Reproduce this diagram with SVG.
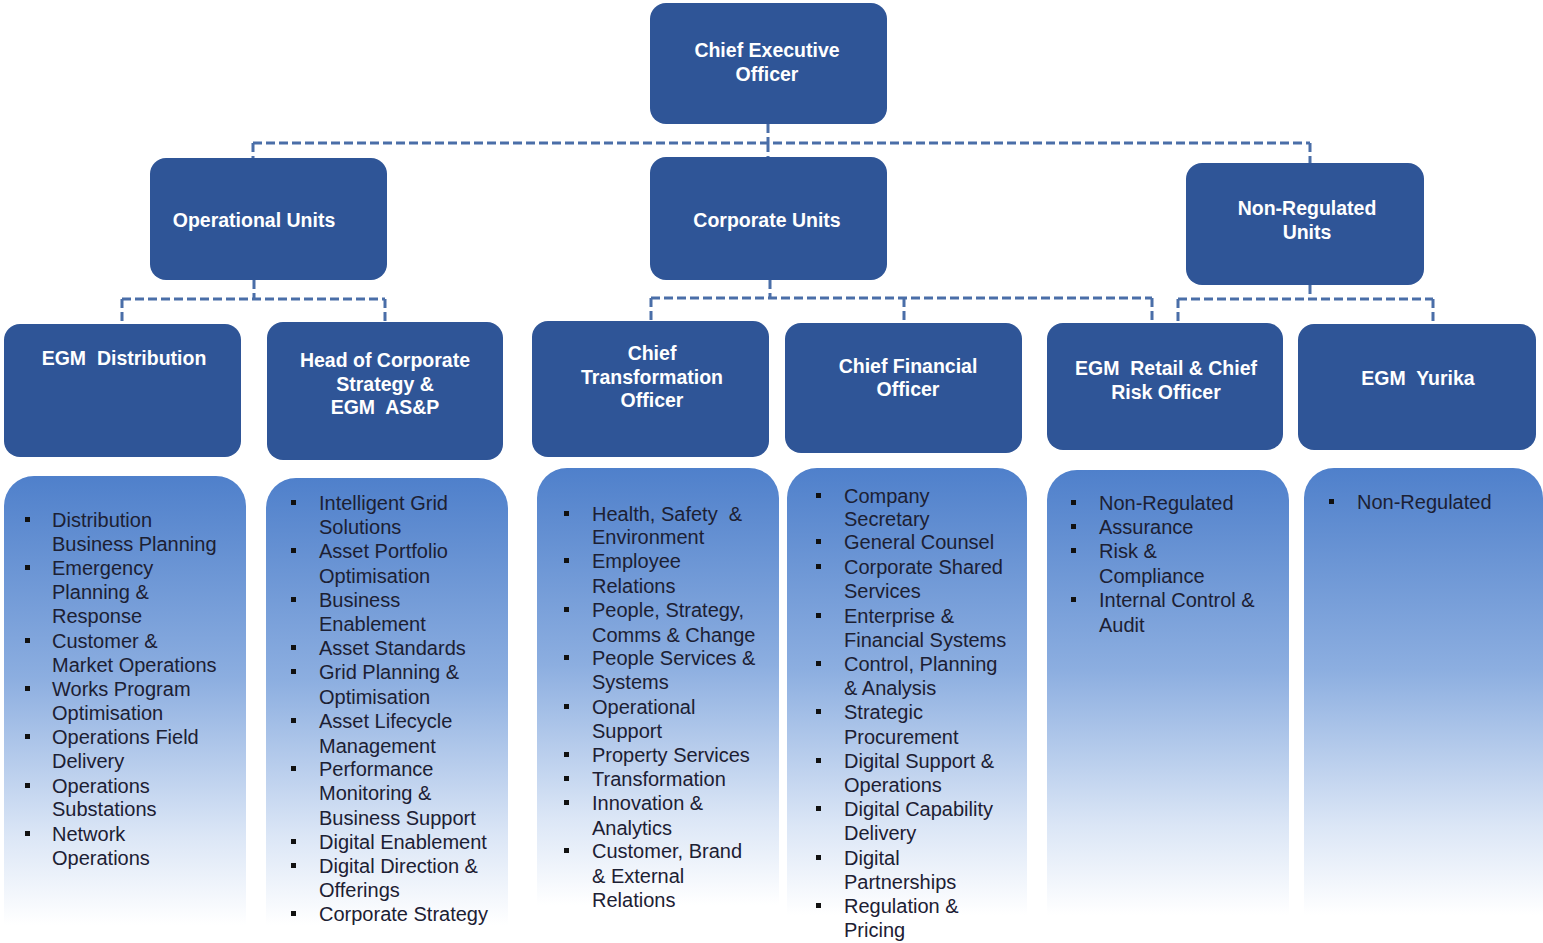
<svg xmlns="http://www.w3.org/2000/svg" width="1543" height="943" viewBox="0 0 1543 943">
  <defs>
    <linearGradient id="panelFill" x1="0" y1="0" x2="0" y2="1">
      <stop offset="0" stop-color="#4f80cb"/>
      <stop offset="0.45" stop-color="#8caee0"/>
      <stop offset="0.8" stop-color="#dbe6f6"/>
      <stop offset="1" stop-color="#ffffff"/>
    </linearGradient>
  </defs>
  <style>
    .box { fill: #2f5597; }
    .head { font-family: "Liberation Sans", Arial, sans-serif; font-weight: bold; font-size: 19.5px; fill: #ffffff; text-anchor: middle; }
    .item { font-family: "Liberation Sans", Arial, sans-serif; font-size: 20px; fill: #1c2033; }
    .bullet { fill: #111111; }
    .panel { fill: url(#panelFill); }
    .link { fill: none; stroke: #4a6ea8; stroke-width: 3; stroke-dasharray: 9 4; }
  </style>
  <rect width="1543" height="943" fill="#ffffff"/>

  <!-- dashed reporting lines -->
  <g id="connectors">
    <path class="link" d="M768 124 V143 M253 143 H1310 M253 143 V158 M768 143 V157 M1310 143 V163"/>
    <path class="link" d="M254 280 V299 M122 299 H385 M122 299 V324 M385 299 V322"/>
    <path class="link" d="M770 280 V298 M651 298 H1152 M651 298 V321 M904 298 V323 M1152 298 V323"/>
    <path class="link" d="M1310 285 V299 M1178 299 H1433 M1178 299 V323 M1433 299 V324"/>
  </g>

  <!-- top level -->
  <g id="ceo">
    <rect class="box" x="650" y="3" width="237" height="121" rx="16"/>
    <text class="head" x="767" y="57">Chief Executive</text>
    <text class="head" x="767" y="81">Officer</text>
  </g>

  <!-- unit groups -->
  <g id="operational-units">
    <rect class="box" x="150" y="158" width="237" height="122" rx="16"/>
    <text class="head" x="254" y="227">Operational Units</text>
  </g>
  <g id="corporate-units">
    <rect class="box" x="650" y="157" width="237" height="123" rx="16"/>
    <text class="head" x="767" y="227">Corporate Units</text>
  </g>
  <g id="non-regulated-units">
    <rect class="box" x="1186" y="163" width="238" height="122" rx="16"/>
    <text class="head" x="1307" y="215">Non-Regulated</text>
    <text class="head" x="1307" y="239">Units</text>
  </g>

  <!-- EGM Distribution -->
  <g id="egm-distribution">
    <rect class="box" x="4" y="324" width="237" height="133" rx="16"/>
    <text class="head" x="124" y="365" xml:space="preserve">EGM  Distribution</text>
    <path class="panel" d="M4 506 A30 30 0 0 1 34 476 H216 A30 30 0 0 1 246 506 V925 H4 Z"/>
    <g class="bullet">
      <rect x="25" y="517" width="5" height="5"/>
      <rect x="25" y="565" width="5" height="5"/>
      <rect x="25" y="638" width="5" height="5"/>
      <rect x="25" y="686" width="5" height="5"/>
      <rect x="25" y="734" width="5" height="5"/>
      <rect x="25" y="783" width="5" height="5"/>
      <rect x="25" y="831" width="5" height="5"/>
    </g>
    <g class="item">
      <text x="52" y="527">Distribution</text>
      <text x="52" y="551">Business Planning</text>
      <text x="52" y="575">Emergency</text>
      <text x="52" y="599">Planning &amp;</text>
      <text x="52" y="623">Response</text>
      <text x="52" y="648">Customer &amp;</text>
      <text x="52" y="672">Market Operations</text>
      <text x="52" y="696">Works Program</text>
      <text x="52" y="720">Optimisation</text>
      <text x="52" y="744">Operations Field</text>
      <text x="52" y="768">Delivery</text>
      <text x="52" y="793">Operations</text>
      <text x="52" y="816">Substations</text>
      <text x="52" y="841">Network</text>
      <text x="52" y="865">Operations</text>
    </g>
  </g>

  <!-- Head of Corporate Strategy -->
  <g id="corporate-strategy">
    <rect class="box" x="267" y="322" width="236" height="138" rx="16"/>
    <text class="head" x="385" y="367">Head of Corporate</text>
    <text class="head" x="385" y="391">Strategy &amp;</text>
    <text class="head" x="385" y="414" xml:space="preserve">EGM  AS&amp;P</text>
    <path class="panel" d="M266 508 A30 30 0 0 1 296 478 H478 A30 30 0 0 1 508 508 V925 H266 Z"/>
    <g class="bullet">
      <rect x="291" y="500" width="5" height="5"/>
      <rect x="291" y="548" width="5" height="5"/>
      <rect x="291" y="597" width="5" height="5"/>
      <rect x="291" y="645" width="5" height="5"/>
      <rect x="291" y="669" width="5" height="5"/>
      <rect x="291" y="718" width="5" height="5"/>
      <rect x="291" y="766" width="5" height="5"/>
      <rect x="291" y="839" width="5" height="5"/>
      <rect x="291" y="863" width="5" height="5"/>
      <rect x="291" y="911" width="5" height="5"/>
    </g>
    <g class="item">
      <text x="319" y="510">Intelligent Grid</text>
      <text x="319" y="534">Solutions</text>
      <text x="319" y="558">Asset Portfolio</text>
      <text x="319" y="583">Optimisation</text>
      <text x="319" y="607">Business</text>
      <text x="319" y="631">Enablement</text>
      <text x="319" y="655">Asset Standards</text>
      <text x="319" y="679">Grid Planning &amp;</text>
      <text x="319" y="704">Optimisation</text>
      <text x="319" y="728">Asset Lifecycle</text>
      <text x="319" y="753">Management</text>
      <text x="319" y="776">Performance</text>
      <text x="319" y="800">Monitoring &amp;</text>
      <text x="319" y="825">Business Support</text>
      <text x="319" y="849">Digital Enablement</text>
      <text x="319" y="873">Digital Direction &amp;</text>
      <text x="319" y="897">Offerings</text>
      <text x="319" y="921">Corporate Strategy</text>
    </g>
  </g>

  <!-- Chief Transformation Officer -->
  <g id="chief-transformation-officer">
    <rect class="box" x="532" y="321" width="237" height="136" rx="16"/>
    <text class="head" x="652" y="360">Chief</text>
    <text class="head" x="652" y="384">Transformation</text>
    <text class="head" x="652" y="407">Officer</text>
    <path class="panel" d="M537 498 A30 30 0 0 1 567 468 H749 A30 30 0 0 1 779 498 V905 H537 Z"/>
    <g class="bullet">
      <rect x="564" y="511" width="5" height="5"/>
      <rect x="564" y="558" width="5" height="5"/>
      <rect x="564" y="607" width="5" height="5"/>
      <rect x="564" y="655" width="5" height="5"/>
      <rect x="564" y="704" width="5" height="5"/>
      <rect x="564" y="752" width="5" height="5"/>
      <rect x="564" y="776" width="5" height="5"/>
      <rect x="564" y="800" width="5" height="5"/>
      <rect x="564" y="848" width="5" height="5"/>
    </g>
    <g class="item">
      <text x="592" y="521" xml:space="preserve">Health, Safety  &amp;</text>
      <text x="592" y="544">Environment</text>
      <text x="592" y="568">Employee</text>
      <text x="592" y="593">Relations</text>
      <text x="592" y="617">People, Strategy,</text>
      <text x="592" y="642">Comms &amp; Change</text>
      <text x="592" y="665">People Services &amp;</text>
      <text x="592" y="689">Systems</text>
      <text x="592" y="714">Operational</text>
      <text x="592" y="738">Support</text>
      <text x="592" y="762">Property Services</text>
      <text x="592" y="786">Transformation</text>
      <text x="592" y="810">Innovation &amp;</text>
      <text x="592" y="835">Analytics</text>
      <text x="592" y="858">Customer, Brand</text>
      <text x="592" y="883">&amp; External</text>
      <text x="592" y="907">Relations</text>
    </g>
  </g>

  <!-- Chief Financial Officer -->
  <g id="chief-financial-officer">
    <rect class="box" x="785" y="323" width="237" height="130" rx="16"/>
    <text class="head" x="908" y="373">Chief Financial</text>
    <text class="head" x="908" y="396">Officer</text>
    <path class="panel" d="M787 498 A30 30 0 0 1 817 468 H997 A30 30 0 0 1 1027 498 V915 H787 Z"/>
    <g class="bullet">
      <rect x="816" y="493" width="5" height="5"/>
      <rect x="816" y="539" width="5" height="5"/>
      <rect x="816" y="564" width="5" height="5"/>
      <rect x="816" y="613" width="5" height="5"/>
      <rect x="816" y="661" width="5" height="5"/>
      <rect x="816" y="709" width="5" height="5"/>
      <rect x="816" y="758" width="5" height="5"/>
      <rect x="816" y="806" width="5" height="5"/>
      <rect x="816" y="855" width="5" height="5"/>
      <rect x="816" y="903" width="5" height="5"/>
    </g>
    <g class="item">
      <text x="844" y="503">Company</text>
      <text x="844" y="526">Secretary</text>
      <text x="844" y="549">General Counsel</text>
      <text x="844" y="574">Corporate Shared</text>
      <text x="844" y="598">Services</text>
      <text x="844" y="623">Enterprise &amp;</text>
      <text x="844" y="647">Financial Systems</text>
      <text x="844" y="671">Control, Planning</text>
      <text x="844" y="695">&amp; Analysis</text>
      <text x="844" y="719">Strategic</text>
      <text x="844" y="744">Procurement</text>
      <text x="844" y="768">Digital Support &amp;</text>
      <text x="844" y="792">Operations</text>
      <text x="844" y="816">Digital Capability</text>
      <text x="844" y="840">Delivery</text>
      <text x="844" y="865">Digital</text>
      <text x="844" y="889">Partnerships</text>
      <text x="844" y="913">Regulation &amp;</text>
      <text x="844" y="937">Pricing</text>
    </g>
  </g>

  <!-- EGM Retail & Chief Risk Officer -->
  <g id="egm-retail-cro">
    <rect class="box" x="1047" y="323" width="236" height="127" rx="16"/>
    <text class="head" x="1166" y="375" xml:space="preserve">EGM  Retail &amp; Chief</text>
    <text class="head" x="1166" y="399">Risk Officer</text>
    <path class="panel" d="M1047 500 A30 30 0 0 1 1077 470 H1259 A30 30 0 0 1 1289 500 V915 H1047 Z"/>
    <g class="bullet">
      <rect x="1071" y="500" width="5" height="5"/>
      <rect x="1071" y="524" width="5" height="5"/>
      <rect x="1071" y="548" width="5" height="5"/>
      <rect x="1071" y="597" width="5" height="5"/>
    </g>
    <g class="item">
      <text x="1099" y="510">Non-Regulated</text>
      <text x="1099" y="534">Assurance</text>
      <text x="1099" y="558">Risk &amp;</text>
      <text x="1099" y="583">Compliance</text>
      <text x="1099" y="607">Internal Control &amp;</text>
      <text x="1099" y="632">Audit</text>
    </g>
  </g>

  <!-- EGM Yurika -->
  <g id="egm-yurika">
    <rect class="box" x="1298" y="324" width="238" height="126" rx="16"/>
    <text class="head" x="1418" y="385" xml:space="preserve">EGM  Yurika</text>
    <path class="panel" d="M1304 498 A30 30 0 0 1 1334 468 H1513 A30 30 0 0 1 1543 498 V915 H1304 Z"/>
    <rect class="bullet" x="1329" y="499" width="5" height="5"/>
    <text class="item" x="1357" y="509">Non-Regulated</text>
  </g>
</svg>
